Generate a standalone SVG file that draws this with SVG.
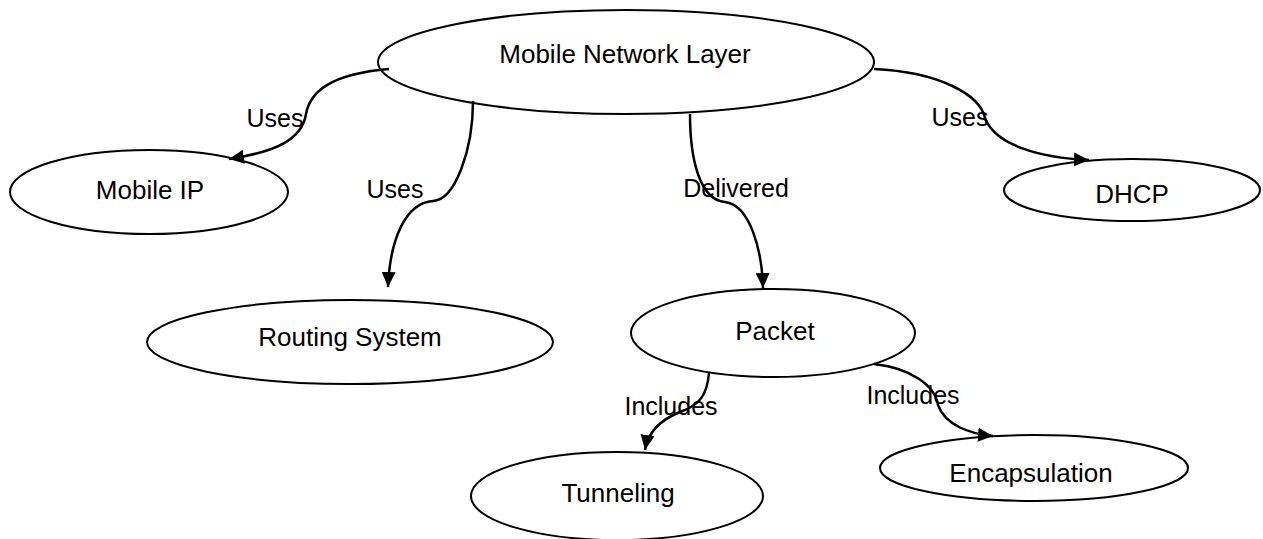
<svg xmlns="http://www.w3.org/2000/svg" width="1263" height="539" viewBox="0 0 1263 539">
<style>
.node ellipse{fill:#fff;stroke:#000;stroke-width:2}
text{font-family:"Liberation Sans",Arial,sans-serif;font-size:26px;fill:#000;text-anchor:middle}
.lbl{font-size:25px}
.edge{fill:none;stroke:#000;stroke-width:2.5;marker-end:url(#arr)}
</style>
<defs>
<marker id="arr" markerWidth="16" markerHeight="14" refX="15" refY="7" orient="auto" markerUnits="userSpaceOnUse">
<path d="M0,0 L15,7 L0,14 Z" fill="#000"/>
</marker>
</defs>
<rect width="1263" height="539" fill="#fff"/>
<g id="n-mnl" class="node"><ellipse cx="626" cy="62" rx="248" ry="52"/><text x="625" y="63">Mobile Network Layer</text></g>
<g id="n-mip" class="node"><ellipse cx="149" cy="192" rx="139" ry="42"/><text x="150" y="199">Mobile IP</text></g>
<g id="n-rs" class="node"><ellipse cx="350" cy="342" rx="203" ry="42"/><text x="350" y="346">Routing System</text></g>
<g id="n-dhcp" class="node"><ellipse cx="1132" cy="190" rx="128" ry="31"/><text x="1132" y="203">DHCP</text></g>
<g id="n-pkt" class="node"><ellipse cx="773" cy="333" rx="142" ry="44"/><text x="775" y="340">Packet</text></g>
<g id="n-tun" class="node"><ellipse cx="617" cy="496" rx="146" ry="44"/><text x="618" y="502">Tunneling</text></g>
<g id="n-enc" class="node"><ellipse cx="1034" cy="468" rx="154" ry="33"/><text x="1031" y="482">Encapsulation</text></g>
<g id="edges">
<path class="edge" d="M389 69 C330 74,310 92,306 114 C302 140,275 152,229 159"/>
<path class="edge" d="M473 101 C473 150,455 200,433 201 C405 203,390 240,388 287"/>
<path class="edge" d="M690 114 C690 160,700 200,725 202 C750 205,762 250,763 288"/>
<path class="edge" d="M874 69 C940 72,980 95,985 118 C995 145,1040 158,1089 160"/>
<path class="edge" d="M709 373 C707 395,700 405,680 412 C660 420,648 432,645 450"/>
<path class="edge" d="M874 364 C910 368,935 385,938 405 C945 425,970 434,993 436"/>
<text class="lbl" x="275" y="127">Uses</text>
<text class="lbl" x="395" y="198">Uses</text>
<text class="lbl" x="736" y="197">Delivered</text>
<text class="lbl" x="960" y="126">Uses</text>
<text class="lbl" x="671" y="415">Includes</text>
<text class="lbl" x="913" y="404">Includes</text>
</g>
</svg>
